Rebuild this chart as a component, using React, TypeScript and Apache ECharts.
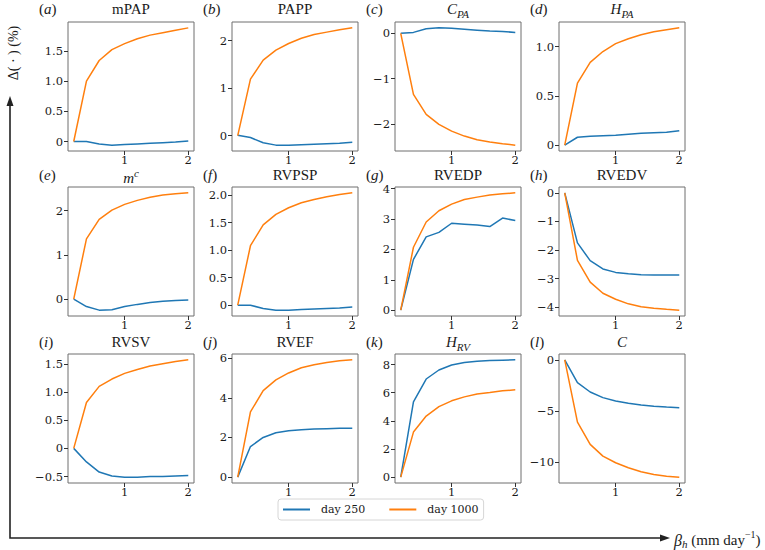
import React, { useEffect, useRef } from "react";
import * as echarts from "echarts";

const betaH = [0.2, 0.4, 0.6, 0.8, 1.0, 1.2, 1.4, 1.6, 1.8, 2.0];
const seriesNames = ["day 250", "day 1000"];

const mPAP250 = [0, 0, -0.04, -0.06, -0.05, -0.04, -0.03, -0.02, -0.01, 0.01];
const mPAP1000 = [0, 1.0, 1.34, 1.52, 1.62, 1.7, 1.76, 1.8, 1.84, 1.88];
const PAPP250 = [0.01, -0.04, -0.15, -0.2, -0.2, -0.19, -0.18, -0.17, -0.16, -0.14];
const PAPP1000 = [0, 1.19, 1.59, 1.8, 1.94, 2.05, 2.13, 2.18, 2.23, 2.27];
const CPA250 = [0, 0.02, 0.1, 0.12, 0.11, 0.09, 0.07, 0.05, 0.04, 0.02];
const CPA1000 = [0, -1.35, -1.79, -2.01, -2.16, -2.27, -2.35, -2.4, -2.44, -2.47];
const HPA250 = [0, 0.08, 0.09, 0.095, 0.1, 0.11, 0.12, 0.125, 0.13, 0.145];
const HPA1000 = [0, 0.63, 0.84, 0.95, 1.03, 1.08, 1.12, 1.15, 1.17, 1.19];
const mc250 = [0, -0.17, -0.25, -0.24, -0.17, -0.12, -0.08, -0.05, -0.03, -0.02];
const mc1000 = [0, 1.36, 1.8, 2.01, 2.14, 2.23, 2.3, 2.35, 2.38, 2.4];
const RVPSP250 = [0, 0, -0.06, -0.09, -0.09, -0.08, -0.07, -0.06, -0.05, -0.035];
const RVPSP1000 = [0, 1.08, 1.46, 1.65, 1.77, 1.86, 1.92, 1.97, 2.01, 2.04];
const RVEDP250 = [0, 1.67, 2.41, 2.56, 2.86, 2.83, 2.8, 2.75, 3.03, 2.95];
const RVEDP1000 = [0, 2.07, 2.9, 3.27, 3.49, 3.64, 3.72, 3.79, 3.83, 3.86];
const RVEDV250 = [0, -1.75, -2.37, -2.66, -2.78, -2.83, -2.86, -2.87, -2.87, -2.87];
const RVEDV1000 = [0, -2.36, -3.12, -3.51, -3.72, -3.88, -3.98, -4.03, -4.07, -4.1];
const RVSV250 = [0, -0.24, -0.42, -0.49, -0.51, -0.51, -0.5, -0.5, -0.49, -0.48];
const RVSV1000 = [0, 0.815, 1.1, 1.23, 1.33, 1.4, 1.46, 1.5, 1.54, 1.57];
const RVEF250 = [0, 1.54, 2.0, 2.24, 2.34, 2.39, 2.42, 2.44, 2.46, 2.46];
const RVEF1000 = [0, 3.29, 4.36, 4.9, 5.25, 5.51, 5.66, 5.78, 5.86, 5.91];
const HRV250 = [0, 5.35, 6.97, 7.61, 7.97, 8.14, 8.23, 8.28, 8.31, 8.33];
const HRV1000 = [0, 3.2, 4.34, 5.01, 5.42, 5.7, 5.9, 6.01, 6.13, 6.2];
const C250 = [0, -2.21, -3.13, -3.68, -4.0, -4.23, -4.4, -4.53, -4.6, -4.66];
const C1000 = [0, -6.06, -8.24, -9.38, -10.03, -10.52, -10.9, -11.17, -11.34, -11.43];

const xTicks = [1, 2];
const yTicksA = [0, 0.5, 1.0, 1.5];
const yTicksB = [0, 1, 2];
const yTicksC = [-2, -1, 0];
const yTicksD = [0, 0.5, 1.0];
const yTicksE = [0, 1, 2];
const yTicksF = [0, 0.5, 1.0, 1.5, 2.0];
const yTicksG = [0, 1, 2, 3, 4];
const yTicksH = [-4, -3, -2, -1, 0];
const yTicksI = [-0.5, 0, 0.5, 1.0, 1.5];
const yTicksJ = [0, 2, 4, 6];
const yTicksK = [0, 2, 4, 6, 8];
const yTicksL = [-10, -5, 0];

const panelLetters = ["a", "b", "c", "d", "e", "f", "g", "h", "i", "j", "k", "l"];
const panelTitles = [
  "{n|mPAP}",
  "{n|PAPP}",
  "{i|C}{s|PA}",
  "{i|H}{s|PA}",
  "{ip|m}{sup|c}",
  "{n|RVPSP}",
  "{n|RVEDP}",
  "{n|RVEDV}",
  "{n|RVSV}",
  "{n|RVEF}",
  "{i|H}{s|RV}",
  "{i|C}",
];

const panels = [
  { a: mPAP250, b: mPAP1000, ticks: yTicksA, dec: 1 },
  { a: PAPP250, b: PAPP1000, ticks: yTicksB, dec: 0 },
  { a: CPA250, b: CPA1000, ticks: yTicksC, dec: 0 },
  { a: HPA250, b: HPA1000, ticks: yTicksD, dec: 1 },
  { a: mc250, b: mc1000, ticks: yTicksE, dec: 0 },
  { a: RVPSP250, b: RVPSP1000, ticks: yTicksF, dec: 1 },
  { a: RVEDP250, b: RVEDP1000, ticks: yTicksG, dec: 0 },
  { a: RVEDV250, b: RVEDV1000, ticks: yTicksH, dec: 0 },
  { a: RVSV250, b: RVSV1000, ticks: yTicksI, dec: 1 },
  { a: RVEF250, b: RVEF1000, ticks: yTicksJ, dec: 0 },
  { a: HRV250, b: HRV1000, ticks: yTicksK, dec: 0 },
  { a: C250, b: C1000, ticks: yTicksL, dec: 0 },
];

const colLeft = [68, 232, 395, 559];
const rowTop = [22, 187, 354];
const boxW = 126;
const boxH = 129;
const BLUE = "#1f77b4";
const ORANGE = "#ff7f0e";
const FONT = "Liberation Serif";
const TICKFONT = "DejaVu Serif";
const TXT = "#1a1a1a";

const fmt = (v: number, dec: number) => {
  if (Math.abs(v) < 1e-9) return "0";
  const s = Math.abs(v).toFixed(dec);
  return (v < 0 ? "\u2212" : "") + s;
};

const richStyles: any = {
  n: { fontSize: 15, fontFamily: FONT, fill: TXT, lineHeight: 15, verticalAlign: "top" },
  i: { fontSize: 15, fontFamily: FONT, fontStyle: "italic", fill: TXT, lineHeight: 15, verticalAlign: "top" },
  s: { fontSize: 11, fontFamily: FONT, fontStyle: "italic", fill: TXT, lineHeight: 10, padding: [7, 0, 0, 0], verticalAlign: "top" },
  ip: { fontSize: 15, fontFamily: FONT, fontStyle: "italic", fill: TXT, lineHeight: 15, padding: [3, 0, 0, 0], verticalAlign: "top" },
  sup: { fontSize: 11, fontFamily: FONT, fontStyle: "italic", fill: TXT, lineHeight: 10, verticalAlign: "top" },
  np: { fontSize: 15, fontFamily: FONT, fill: TXT, lineHeight: 15, padding: [3, 0, 0, 0], verticalAlign: "top" },
  nsup: { fontSize: 10, fontFamily: FONT, fill: TXT, lineHeight: 10, verticalAlign: "top" },
  ipb: { fontSize: 16, fontFamily: FONT, fontStyle: "italic", fill: TXT, lineHeight: 15, padding: [3, 0, 0, 0], verticalAlign: "top" },
  sb: { fontSize: 11, fontFamily: FONT, fontStyle: "italic", fill: TXT, lineHeight: 10, padding: [9, 0, 0, 0], verticalAlign: "top" },
};

export default function App() {
  const ref = useRef<HTMLDivElement>(null);
  useEffect(() => {
    if (!ref.current) return;
    const chart = echarts.init(ref.current, undefined, { renderer: "svg" });
    const grid: any[] = [];
    const xAxis: any[] = [];
    const yAxis: any[] = [];
    const series: any[] = [];
    const graphic: any[] = [];

    panels.forEach((p, idx) => {
      const r = Math.floor(idx / 4);
      const c = idx % 4;
      const left = colLeft[c];
      const top = rowTop[r];
      grid.push({
        left,
        top,
        width: boxW,
        height: boxH,
        show: true,
        borderColor: "#6e6e6e",
        borderWidth: 1,
        containLabel: false,
      });
      xAxis.push({
        type: "value",
        gridIndex: idx,
        position: "bottom",
        min: 0.11,
        max: 2.09,
        axisLine: { show: false, onZero: false },
        splitLine: { show: false },
        axisTick: { show: true, length: 4, lineStyle: { color: "#333" }, customValues: xTicks },
        axisLabel: {
          margin: 3,
          fontFamily: TICKFONT,
          fontSize: 11.5,
          color: TXT,
          customValues: xTicks,
          formatter: (v: number) => fmt(v, 0),
        },
      });
      const all = p.a.concat(p.b);
      const mn = Math.min(...all);
      const mx = Math.max(...all);
      const pad = (mx - mn) * 0.05;
      yAxis.push({
        type: "value",
        gridIndex: idx,
        position: "left",
        min: mn - pad,
        max: mx + pad,
        axisLine: { show: false, onZero: false },
        splitLine: { show: false },
        axisTick: { show: true, length: 4, lineStyle: { color: "#333" }, customValues: p.ticks },
        axisLabel: {
          margin: 5,
          fontFamily: TICKFONT,
          fontSize: 11.5,
          color: TXT,
          customValues: p.ticks,
          formatter: (v: number) => fmt(v, p.dec),
        },
      });
      series.push({
        name: seriesNames[0],
        type: "line",
        xAxisIndex: idx,
        yAxisIndex: idx,
        showSymbol: false,
        lineStyle: { color: BLUE, width: 1.5 },
        itemStyle: { color: BLUE },
        data: betaH.map((x, k) => [x, p.a[k]]),
      });
      series.push({
        name: seriesNames[1],
        type: "line",
        xAxisIndex: idx,
        yAxisIndex: idx,
        showSymbol: false,
        lineStyle: { color: ORANGE, width: 1.5 },
        itemStyle: { color: ORANGE },
        data: betaH.map((x, k) => [x, p.b[k]]),
      });
      const ty = top - (r === 0 ? 13 : 12);
      graphic.push({
        type: "text",
        x: left + boxW / 2,
        y: ty,
        style: {
          text: panelTitles[idx],
          align: "center",
          verticalAlign: "middle",
          rich: richStyles,
        },
      });
      graphic.push({
        type: "text",
        x: left - 29,
        y: ty,
        style: {
          text: "{n|(}{i|" + panelLetters[idx] + "}{n|)}",
          align: "left",
          verticalAlign: "middle",
          rich: richStyles,
        },
      });
    });

    graphic.push({
      type: "polyline",
      shape: { points: [[10, 104], [10, 538], [662, 538]] },
      style: { stroke: "#222", lineWidth: 1.6, fill: "none" },
    });
    graphic.push({
      type: "polygon",
      shape: { points: [[10, 96], [6.5, 106], [13.5, 106]] },
      style: { fill: "#222" },
    });
    graphic.push({
      type: "polygon",
      shape: { points: [[670, 538], [660, 534.5], [660, 541.5]] },
      style: { fill: "#222" },
    });
    graphic.push({
      type: "text",
      x: 13,
      y: 53,
      rotation: Math.PI / 2,
      style: {
        text: "{d|\u0394( \u00b7 ) (%)}",
        align: "center",
        verticalAlign: "middle",
        rich: { d: { fontSize: 14, fontFamily: FONT, fill: TXT } },
      },
    });
    graphic.push({
      type: "text",
      x: 674,
      y: 537,
      style: {
        text: "{ipb|\u03b2}{sb|h}{np| (mm day}{nsup|\u22121}{np|)}",
        align: "left",
        verticalAlign: "middle",
        rich: richStyles,
      },
    });

    chart.setOption({
      animation: false,
      backgroundColor: "#ffffff",
      grid,
      xAxis,
      yAxis,
      series,
      graphic,
      legend: {
        data: seriesNames,
        left: 278,
        top: 499,
        orient: "horizontal",
        icon: "rect",
        itemWidth: 27,
        itemHeight: 2,
        itemGap: 24,
        padding: [5, 5, 5, 5],
        backgroundColor: "#ffffff",
        borderColor: "#d6d6d6",
        borderWidth: 1,
        borderRadius: 3,
        textStyle: {
          fontFamily: TICKFONT,
          fontSize: 11,
          color: TXT,
          padding: [0, 0, 0, 6],
        },
      },
    });
    return () => chart.dispose();
  }, []);
  return <div ref={ref} style={{ width: 765, height: 550, position: "absolute", left: 0, top: 0 }} />;
}
